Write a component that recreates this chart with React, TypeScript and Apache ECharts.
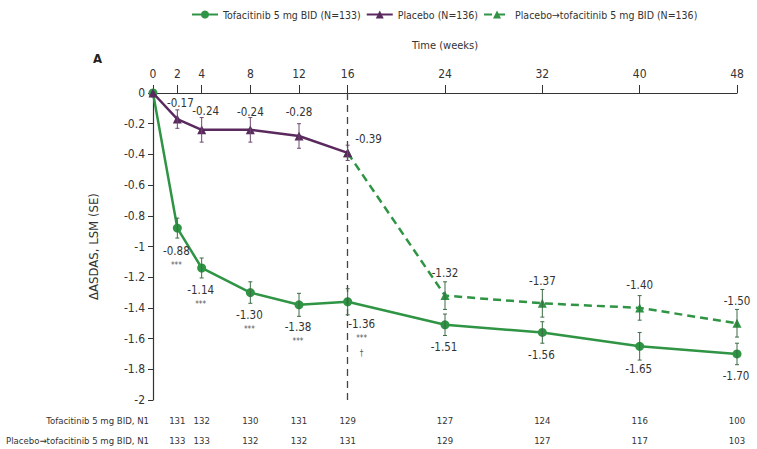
import React, { useEffect, useRef } from "react";
import * as echarts from "echarts";

const weekTicks = [0, 2, 4, 8, 12, 16, 24, 32, 40, 48];

const tofaWeeks = [0, 2, 4, 8, 12, 16, 24, 32, 40, 48];
const tofaValues = [0, -0.88, -1.14, -1.3, -1.38, -1.36, -1.51, -1.56, -1.65, -1.7];
const tofaSE = [0, 0.065, 0.065, 0.07, 0.075, 0.085, 0.07, 0.07, 0.09, 0.07];
const tofaMarks = ["", "***", "***", "***", "***", "***\n†", "", "", "", ""];

const placeboWeeks = [0, 2, 4, 8, 12, 16];
const placeboValues = [0, -0.17, -0.24, -0.24, -0.28, -0.39];
const placeboSE = [0, 0.06, 0.08, 0.08, 0.08, 0.05];

const switchWeeks = [16, 24, 32, 40, 48];
const switchValues = [-0.39, -1.32, -1.37, -1.4, -1.5];
const switchSE = [0, 0.09, 0.09, 0.08, 0.09];

const nWeeks = [2, 4, 8, 12, 16, 24, 32, 40, 48];
const tofaN = [131, 132, 130, 131, 129, 127, 124, 116, 100];
const switchN = [133, 133, 132, 132, 131, 129, 127, 117, 103];

const GREEN = "#2f9444";
const PURPLE = "#5a2a5e";
const TXT = "#333";
const FONT = "'Liberation Sans Narrow', 'DejaVu Sans Condensed', sans-serif";

const fmt = (v: number) => v.toFixed(2);

export default function App() {
  const ref = useRef<HTMLDivElement>(null);
  useEffect(() => {
    document.body.style.margin = "0";
    const chart = echarts.init(ref.current!, undefined, { renderer: "svg" });

    const errBar = (color: string) => (params: any, api: any) => {
      const x = api.value(0);
      const y = api.value(1);
      const se = api.value(2);
      if (!se) return null;
      const hi = api.coord([x, y + se]);
      const lo = api.coord([x, y - se]);
      const w = 2;
      const style = { stroke: color, lineWidth: 1 };
      return {
        type: "group",
        children: [
          { type: "line", shape: { x1: hi[0], y1: hi[1], x2: lo[0], y2: lo[1] }, style },
          { type: "line", shape: { x1: hi[0] - w, y1: hi[1], x2: hi[0] + w, y2: hi[1] }, style },
          { type: "line", shape: { x1: lo[0] - w, y1: lo[1], x2: lo[0] + w, y2: lo[1] }, style },
        ],
      };
    };

    const tofaData = tofaWeeks.map((w, i) => {
      const item: any = { value: [w, tofaValues[i]] };
      if (i === 0) {
        item.label = { show: false };
      } else {
        const txt = tofaMarks[i]
          ? `{v|${fmt(tofaValues[i])}}\n{s|${tofaMarks[i].replace("\n", "}\n{s|")}}`
          : `{v|${fmt(tofaValues[i])}}`;
        item.label = {
          show: true,
          position: "bottom",
          distance: 11,
          offset: w === 16 ? [14, 0] : [-1, 0],
          formatter: txt,
        };
      }
      return item;
    });

    const placeboOffsets: any[] = [null, [3, -1], [4, -3], [0, -2], [0, -8], null];
    const placeboData = placeboWeeks.map((w, i) => {
      const item: any = { value: [w, placeboValues[i]] };
      if (i === 0) item.label = { show: false };
      else if (w === 16)
        item.label = { show: true, position: "right", distance: 5, offset: [-2, -14], formatter: fmt(placeboValues[i]) };
      else
        item.label = { show: true, position: "top", distance: 5, offset: placeboOffsets[i], formatter: fmt(placeboValues[i]) };
      return item;
    });

    const switchData = switchWeeks.map((w, i) => {
      const item: any = { value: [w, switchValues[i]] };
      if (i === 0) item.label = { show: false };
      else item.label = { show: true, position: "top", distance: 12, formatter: fmt(switchValues[i]) };
      return item;
    });

    const labelStyle = {
      color: TXT,
      fontSize: 11.5,
      fontFamily: FONT,
      rich: {
        v: { fontSize: 11.5, lineHeight: 14, color: TXT, fontFamily: FONT },
        s: { fontSize: 8, lineHeight: 15, color: "#555", fontFamily: FONT },
      },
    };

    const nAxis = (name: string, values: number[], offset: number) => ({
      type: "value",
      gridIndex: 0,
      position: "bottom",
      offset,
      min: 0,
      max: 48,
      axisLine: { show: false },
      axisTick: { show: false },
      splitLine: { show: false },
      axisLabel: {
        customValues: nWeeks,
        margin: 0,
        verticalAlign: "middle",
        color: TXT,
        fontSize: 9.5,
        fontFamily: FONT,
        formatter: (v: number) => {
          const idx = nWeeks.indexOf(v);
          return idx >= 0 ? String(values[idx]) : "";
        },
      },
      name,
      nameLocation: "start",
      nameGap: 4,
      nameTextStyle: { color: TXT, fontSize: 9.5, fontFamily: FONT, align: "right", verticalAlign: "middle" },
    });

    chart.setOption({
      animation: false,
      textStyle: { fontFamily: FONT },
      legend: {
        top: 4,
        left: 186,
        itemWidth: 26,
        itemHeight: 10,
        itemGap: 5,
        textStyle: { color: TXT, fontSize: 10.5, fontFamily: FONT },
        data: [
          "Tofacitinib 5 mg BID (N=133)",
          "Placebo (N=136)",
          "Placebo→tofacitinib 5 mg BID (N=136)",
        ],
      },
      grid: { left: 153, right: 20, top: 93, bottom: 49, containLabel: false, outerBoundsMode: "none" },
      graphic: [
        { type: "text", left: 93, top: 52, style: { text: "A", fontSize: 13, fontWeight: "bold", fill: "#222", fontFamily: FONT } },
      ],
      xAxis: [
        {
          type: "value",
          position: "top",
          min: 0,
          max: 48,
          name: "Time (weeks)",
          nameLocation: "middle",
          nameGap: 42,
          nameTextStyle: { color: TXT, fontSize: 11, fontFamily: FONT },
          axisLine: { show: true, lineStyle: { color: "#333", width: 1.2 } },
          axisTick: { show: true, customValues: weekTicks, length: 8, lineStyle: { color: "#333" } },
          axisLabel: { customValues: weekTicks, color: TXT, fontSize: 12, margin: 13, fontFamily: FONT },
          splitLine: { show: false },
        },
        nAxis("Tofacitinib 5 mg BID, N1", tofaN, 20),
        nAxis("Placebo→tofacitinib 5 mg BID, N1", switchN, 40),
      ],
      yAxis: {
        type: "value",
        min: -2,
        max: 0,
        interval: 0.2,
        name: "ΔASDAS, LSM (SE)",
        nameLocation: "middle",
        nameRotate: 90,
        nameGap: 53,
        nameTextStyle: { color: TXT, fontSize: 13, fontFamily: FONT },
        axisLine: { show: true, lineStyle: { color: "#333", width: 1.2 } },
        axisTick: { show: true, length: 5, lineStyle: { color: "#333" } },
        axisLabel: {
          color: TXT,
          fontSize: 12,
          fontFamily: FONT,
          formatter: (v: number) => String(Math.round(v * 10) / 10),
        },
        splitLine: { show: false },
      },
      series: [
        {
          name: "Tofacitinib 5 mg BID (N=133)",
          type: "line",
          xAxisIndex: 0,
          data: tofaData,
          symbol: "circle",
          symbolSize: 9,
          color: GREEN,
          lineStyle: { color: GREEN, width: 2.5 },
          itemStyle: { color: GREEN },
          label: labelStyle,
          z: 3,
          markLine: {
            silent: true,
            symbol: "none",
            label: { show: false },
            lineStyle: { color: "#444", type: [7, 5], width: 1.3 },
            data: [{ xAxis: 16 }],
          },
        },
        {
          name: "Placebo (N=136)",
          type: "line",
          xAxisIndex: 0,
          data: placeboData,
          symbol: "triangle",
          symbolSize: 9,
          color: PURPLE,
          lineStyle: { color: PURPLE, width: 2.5 },
          itemStyle: { color: PURPLE },
          label: labelStyle,
          z: 4,
        },
        {
          name: "Placebo→tofacitinib 5 mg BID (N=136)",
          type: "line",
          xAxisIndex: 0,
          data: switchData,
          symbol: "triangle",
          symbolSize: 9,
          color: GREEN,
          lineStyle: { color: GREEN, width: 2.5, type: [8, 5] },
          itemStyle: { color: GREEN },
          label: labelStyle,
          z: 3,
        },
        {
          type: "custom",
          xAxisIndex: 0,
          renderItem: errBar("#3d6b45"),
          data: tofaWeeks.map((w, i) => [w, tofaValues[i], tofaSE[i]]),
          z: 5,
          silent: true,
        },
        {
          type: "custom",
          xAxisIndex: 0,
          renderItem: errBar("#6b4a6e"),
          data: placeboWeeks.map((w, i) => [w, placeboValues[i], placeboSE[i]]),
          z: 5,
          silent: true,
        },
        {
          type: "custom",
          xAxisIndex: 0,
          renderItem: errBar("#3d6b45"),
          data: switchWeeks.map((w, i) => [w, switchValues[i], switchSE[i]]),
          z: 5,
          silent: true,
        },
      ],
    });
    return () => chart.dispose();
  }, []);
  return <div ref={ref} style={{ width: 757, height: 449 }} />;
}
